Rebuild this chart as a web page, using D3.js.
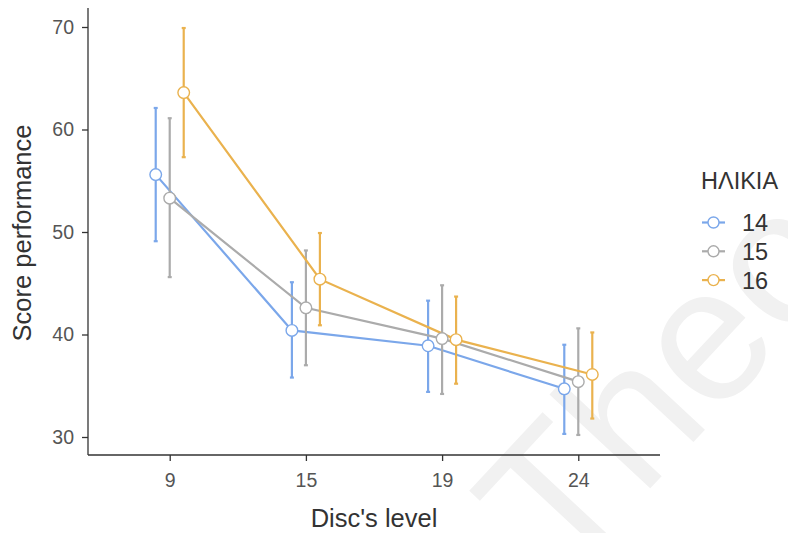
<!DOCTYPE html>
<html>
<head>
<meta charset="utf-8">
<script src="https://cdn.jsdelivr.net/npm/d3@7"></script>
<style>
  body { margin: 0; background: #fff; }
  svg text { font-family: "Liberation Sans", Arial, sans-serif; }
</style>
</head>
<body>
<div id="chart"></div>
<script>
//Datos
const niveles = ['9', '15', '19', '24'];
const edades = ['14', '15', '16'];
const media14 = [55.6, 40.4, 38.9, 34.7];
const media15 = [53.3, 42.6, 39.6, 35.4];
const media16 = [63.6, 45.4, 39.5, 36.1];
const sup14 = [62.1, 45.1, 43.3, 39.0];
const sup15 = [61.1, 48.2, 44.8, 40.6];
const sup16 = [69.9, 49.9, 43.7, 40.2];
const inf14 = [49.1, 35.8, 34.4, 30.3];
const inf15 = [45.6, 37.0, 34.2, 30.2];
const inf16 = [57.3, 40.9, 35.2, 31.8];
const yTicks = [30, 40, 50, 60, 70];

//Colores fijos
const COLORS = ['#7BA7EA', '#ABABAB', '#EAB24E'];

let series = [
    { key: '14', media: media14, sup: sup14, inf: inf14 },
    { key: '15', media: media15, sup: sup15, inf: inf15 },
    { key: '16', media: media16, sup: sup16, inf: inf16 }
];

let width = 788, height = 533;
let svg = d3.select('#chart').append('svg')
    .attr('width', width)
    .attr('height', height);

//Marca de agua
svg.append('text')
    .attr('transform', 'translate(562,583) rotate(-47)')
    .attr('font-size', 190)
    .attr('fill', '#f1f1f1')
    .text('Theo');

let mLeft = 88, mRight = 660, mTop = 8, mBottom = 455;

let x = d3.scalePoint()
    .domain(niveles)
    .range([mLeft, mRight])
    .padding(0.6);

let dodge = d3.scalePoint()
    .domain(edades)
    .range([-14, 14]);

let y = d3.scaleLinear()
    .domain([30, 70])
    .range([437, 27]);

let color = d3.scaleOrdinal().domain(edades).range(COLORS);

//Ejes
let xAxis = svg.append('g')
    .attr('transform', 'translate(0,' + mBottom + ')')
    .call(d3.axisBottom(x).tickSizeOuter(0).tickSize(6).tickPadding(12));
xAxis.select('.domain').attr('d', 'M' + mLeft + ',0H' + mRight);

let yAxis = svg.append('g')
    .attr('transform', 'translate(' + mLeft + ',0)')
    .call(d3.axisLeft(y).tickValues(yTicks).tickSizeOuter(0).tickSize(6).tickPadding(8));
yAxis.select('.domain').attr('d', 'M0,' + mTop + 'V' + mBottom);

svg.selectAll('.domain, .tick line').attr('stroke', '#333').attr('stroke-width', 1.3);
svg.selectAll('.tick text').attr('font-size', 19.5).attr('fill', '#555');

//Titulos
svg.append('text')
    .attr('x', 374).attr('y', 527)
    .attr('text-anchor', 'middle')
    .attr('font-size', 25.5).attr('fill', '#333')
    .text("Disc's level");

svg.append('text')
    .attr('transform', 'translate(31,233) rotate(-90)')
    .attr('text-anchor', 'middle')
    .attr('font-size', 25.5).attr('fill', '#333')
    .text('Score performance');

//Lineas, barras de error y puntos
let plot = svg.append('g');

series.forEach(function(s) {
    let c = color(s.key);
    let px = function(i) { return x(niveles[i]) + dodge(s.key); };

    let line = d3.line()
        .x(function(d, i) { return px(i); })
        .y(function(d) { return y(d); });

    plot.append('path')
        .datum(s.media)
        .attr('d', line)
        .attr('fill', 'none')
        .attr('stroke', c)
        .attr('stroke-width', 2.2);

    let g = plot.append('g');
    s.media.forEach(function(m, i) {
        g.append('line')
            .attr('x1', px(i)).attr('x2', px(i))
            .attr('y1', y(s.sup[i])).attr('y2', y(s.inf[i]))
            .attr('stroke', c).attr('stroke-width', 2.2);
        [s.sup[i], s.inf[i]].forEach(function(v) {
            g.append('line')
                .attr('x1', px(i) - 2).attr('x2', px(i) + 2)
                .attr('y1', y(v)).attr('y2', y(v))
                .attr('stroke', c).attr('stroke-width', 2.2);
        });
    });
});

series.forEach(function(s) {
    let c = color(s.key);
    plot.append('g').selectAll('circle')
        .data(s.media)
        .enter()
        .append('circle')
        .attr('cx', function(d, i) { return x(niveles[i]) + dodge(s.key); })
        .attr('cy', function(d) { return y(d); })
        .attr('r', 5.8)
        .attr('fill', '#fff')
        .attr('stroke', c)
        .attr('stroke-width', 1.4);
});

//Leyenda
let legend = svg.append('g').attr('transform', 'translate(700,0)');
legend.append('text')
    .attr('x', 1).attr('y', 189)
    .attr('font-size', 23.5).attr('fill', '#333')
    .text('ΗΛΙΚΙΑ');

edades.forEach(function(e, i) {
    let ly = 222.5 + i * 28.8;
    let it = legend.append('g').attr('transform', 'translate(0,' + ly + ')');
    it.append('line')
        .attr('x1', 2).attr('x2', 25)
        .attr('stroke', color(e)).attr('stroke-width', 2.2);
    it.append('circle')
        .attr('cx', 13.5).attr('r', 5.5)
        .attr('fill', '#fff').attr('stroke', color(e)).attr('stroke-width', 1.4);
    it.append('text')
        .attr('x', 42).attr('y', 8.5)
        .attr('font-size', 23.5).attr('fill', '#333')
        .text(e);
});
</script>
</body>
</html>
